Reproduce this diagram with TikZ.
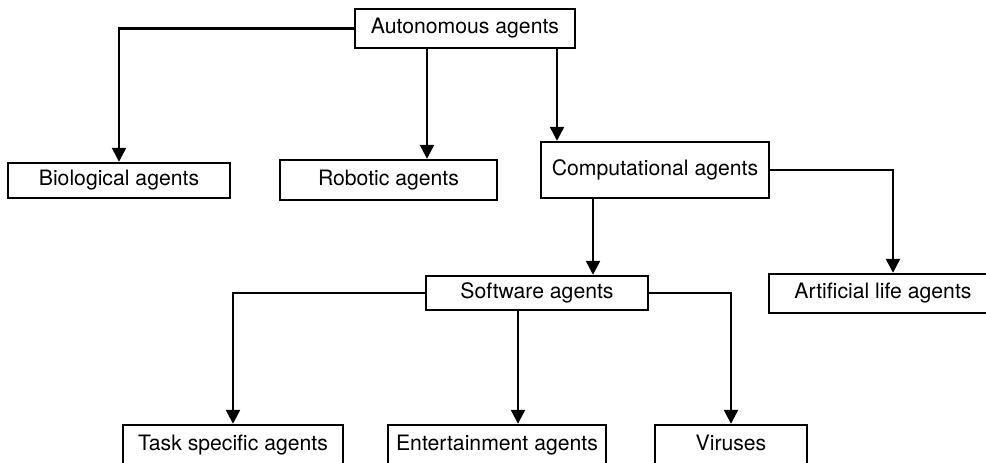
\documentclass[tikz,border=0pt]{standalone}
\usepackage{fontspec}
\setmainfont{TeX Gyre Heros}
\usetikzlibrary{arrows.meta}
\begin{document}
\begin{tikzpicture}[x=1pt,y=-1pt,
  box/.style={draw, line width=2.4pt, inner sep=0pt, font=\fontsize{21.2}{25}\selectfont},
  cutbox/.style={box, text height=0pt, text depth=0pt, minimum height=50pt},
  conn/.style={line width=2.4pt, -{Triangle[width=14pt,length=14pt]}}]
\useasboundingbox (0,0) rectangle (986,463);
\clip (0,0) rectangle (986,463);
\fill[white] (0,0) rectangle (986,463);
% nodes
\node[box, minimum width=220pt, minimum height=39pt] (auto) at (465,28.5) {Autonomous agents};
\node[box, minimum width=222pt, minimum height=35pt] (bio) at (119,180.5) {Biological agents};
\node[box, minimum width=217pt, minimum height=40pt] (robo) at (388.5,180) {Robotic agents};
\node[box, minimum width=228pt, minimum height=56pt] (comp) at (655,170) {Computational agents};
\node[box, minimum width=222pt, minimum height=34pt] (soft) at (537,293) {Software agents};
\node[box, minimum width=228pt, minimum height=39pt] (art) at (883,293.5) {Artificial life agents};
\node[cutbox, minimum width=220pt] (task) at (233,450) {Task specific agents};
\node[cutbox, minimum width=218pt] (ent) at (497,450) {Entertainment agents};
\node[cutbox, minimum width=152pt] (vir) at (731,450) {Viruses};
% helper x positions
\coordinate (xr) at (427,0);
\coordinate (xc) at (557,0);
\coordinate (xa) at (893,0);
\coordinate (xs) at (593,0);
\coordinate (xe) at (518,0);
% connectors
\draw[conn] (auto.west) -| (bio.north);
\draw[conn] (auto.south -| xr) -- (robo.north -| xr);
\draw[conn] (auto.south -| xc) -- (comp.north -| xc);
\draw[conn] (comp.east) -| (art.north -| xa);
\draw[conn] (comp.south -| xs) -- (soft.north -| xs);
\draw[conn] (soft.west) -| (task.north);
\draw[conn] (soft.south -| xe) -- (ent.north -| xe);
\draw[conn] (soft.east) -| (vir.north);
\end{tikzpicture}
\end{document}
